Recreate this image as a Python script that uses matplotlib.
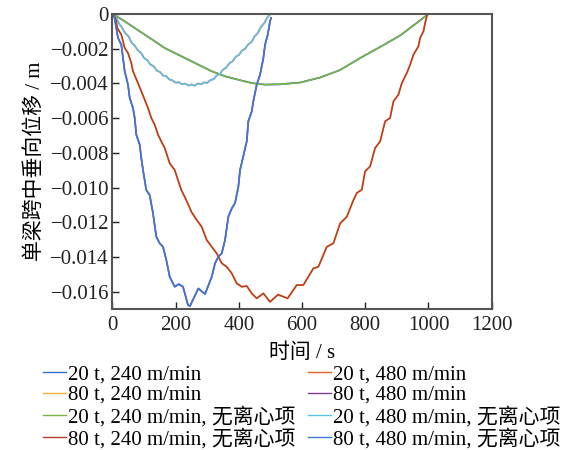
import matplotlib
matplotlib.use("Agg")
import matplotlib.pyplot as plt
from matplotlib.ticker import FuncFormatter

plt.rcParams['font.family'] = ['Liberation Serif', 'Noto Sans CJK SC']
plt.rcParams['axes.unicode_minus'] = True

# ---- data (time in s, mid-span deflection in m) ----
# 80 t, 480 m/min, no centrifugal term (deep curve, ends at 500 s)
t_80_480 = [0, 4.7, 12.0, 17.4, 27.9, 33.2, 38.6, 49.1, 54.5, 64.9, 70.3, 75.4,
            86.1, 91.2, 96.6, 107.0, 117.8, 128.2, 138.7, 149.5, 159.9, 170.4,
            181.1, 197.0, 209.6, 223.2, 239.1, 245.4, 271.7, 292.9, 314.1, 324.6,
            335.0, 345.8, 356.2, 366.7, 377.5, 387.9, 398.4, 403.7, 414.2, 425.0,
            430.0, 440.8, 445.8, 456.6, 467.1, 477.5, 482.9, 491.5, 498.7, 502.0]
v_80_480 = [0, -0.00004, -0.00081, -0.00138, -0.00177, -0.00253, -0.00330, -0.00407,
            -0.00484, -0.00542, -0.00599, -0.00695, -0.00753, -0.00830, -0.00899,
            -0.01014, -0.01043, -0.01148, -0.01283, -0.01321, -0.01341, -0.01417,
            -0.01514, -0.01571, -0.01556, -0.01571, -0.01677, -0.01682, -0.01581,
            -0.01613, -0.01514, -0.01436, -0.01398, -0.01379, -0.01302, -0.01168,
            -0.01120, -0.01089, -0.00995, -0.00899, -0.00818, -0.00733, -0.00618,
            -0.00561, -0.00503, -0.00407, -0.00350, -0.00254, -0.00177, -0.00119,
            -0.00042, -0.00023]

# 80 t, 240 m/min, no centrifugal term (deep curve, ends at 1000 s)
t_80_240 = [0, 7.0, 12.0, 15.2, 27.9, 38.6, 49.1, 59.5, 64.9, 80.7, 91.2, 102.0,
            112.4, 122.9, 133.6, 144.1, 154.5, 165.3, 175.7, 181.1, 197.0, 207.4,
            217.9, 233.7, 250.2, 266.6, 282.5, 298.3, 314.1, 330.0, 345.8, 361.6,
            377.5, 393.3, 409.1, 425.0, 440.8, 456.6, 477.5, 498.7, 524.1, 554.1,
            583.3, 604.2, 635.8, 651.7, 678.3, 699.2, 720.4, 741.6, 762.5, 773.3,
            789.1, 799.6, 815.4, 831.2, 847.1, 862.9, 878.7, 889.2, 905.0, 915.8,
            931.6, 942.1, 952.5, 968.3, 973.7, 984.2, 989.5, 996.0, 1000.0]
v_80_240 = [0, -0.00013, -0.00042, -0.00081, -0.00119, -0.00196, -0.00225, -0.00282,
            -0.00330, -0.00398, -0.00445, -0.00494, -0.00542, -0.00599, -0.00638,
            -0.00695, -0.00734, -0.00772, -0.00830, -0.00860, -0.00899, -0.00957,
            -0.01014, -0.01072, -0.01141, -0.01187, -0.01226, -0.01302, -0.01341,
            -0.01379, -0.01436, -0.01456, -0.01494, -0.01552, -0.01571, -0.01567,
            -0.01609, -0.01638, -0.01609, -0.01658, -0.01616, -0.01638, -0.01561,
            -0.01561, -0.01465, -0.01456, -0.01341, -0.01321, -0.01206, -0.01168,
            -0.01072, -0.01031, -0.01012, -0.00906, -0.00878, -0.00772, -0.00734,
            -0.00618, -0.00599, -0.00503, -0.00465, -0.00398, -0.00340, -0.00292,
            -0.00235, -0.00186, -0.00138, -0.00100, -0.00052, -0.00004, 0]

# 20 t, 480 m/min, no centrifugal term (shallow curve with a small ripple)
t_20_480 = list(range(0, 501, 10))
v_20_480 = [0, -0.00017, -0.00053, -0.00078, -0.00111, -0.00127, -0.00164, -0.00182,
            -0.00209, -0.00224, -0.00254, -0.00266, -0.00291, -0.00301, -0.00326,
            -0.00334, -0.00354, -0.00359, -0.00377, -0.00383, -0.00396, -0.00393,
            -0.00405, -0.00401, -0.00412, -0.00406, -0.00413, -0.00400, -0.00405,
            -0.00394, -0.00397, -0.00380, -0.00376, -0.00354, -0.00346, -0.00320,
            -0.00309, -0.00284, -0.00273, -0.00247, -0.00236, -0.00211, -0.00200,
            -0.00174, -0.00162, -0.00129, -0.00109, -0.00074, -0.00054, -0.00020, 0]

# 20 t, 240 m/min, no centrifugal term (shallow curve, ends at 1000 s)
t_20_240 = [0, 38.6, 70.3, 102.0, 133.6, 165.3, 197.0, 229.6, 271.7, 314.1, 356.2,
            398.4, 440.8, 482.9, 530.4, 593.7, 657.1, 720.4, 783.7, 847.1, 910.4,
            973.7, 1000.0]
v_20_240 = [0, -0.00042, -0.00081, -0.00119, -0.00157, -0.00196, -0.00225, -0.00254,
            -0.00292, -0.00330, -0.00359, -0.00379, -0.00398, -0.00407, -0.00405,
            -0.00395, -0.00366, -0.00323, -0.00254, -0.00190, -0.00124, -0.00037, 0]

# with the centrifugal term the curves are indistinguishable at this resolution
labels = ["20 t, 240 m/min", "20 t, 480 m/min", "80 t, 240 m/min", "80 t, 480 m/min",
          "20 t, 240 m/min, 无离心项", "20 t, 480 m/min, 无离心项",
          "80 t, 240 m/min, 无离心项", "80 t, 480 m/min, 无离心项"]
series = [(t_20_240, v_20_240), (t_20_480, v_20_480), (t_80_240, v_80_240),
          (t_80_480, v_80_480), (t_20_240, v_20_240), (t_20_480, v_20_480),
          (t_80_240, v_80_240), (t_80_480, v_80_480)]
colors = ["#2a72c8", "#e0622a", "#efb134", "#7e3f9a",
          "#7cb342", "#5cc4ee", "#bb3a28", "#3a7ad6"]
widths = [1.25, 1.25, 1.25, 1.25, 1.15, 1.15, 1.15, 1.15]

fig = plt.figure(figsize=(5.71, 4.5), dpi=100)
ax = fig.add_axes([0.197, 0.313, 0.664, 0.656])

lines = []
for (t, v), c, lw, lab in zip(series, colors, widths, labels):
    ln, = ax.plot(t, v, color=c, lw=lw, label=lab, solid_joinstyle="round")
    lines.append(ln)

ax.set_xlim(0, 1200)
ax.set_ylim(-0.017, 0)
ax.set_xticks(range(0, 1201, 200))
ax.set_yticks([-0.016, -0.014, -0.012, -0.010, -0.008, -0.006, -0.004, -0.002, 0])
ax.yaxis.set_major_formatter(FuncFormatter(lambda y, _: "0" if abs(y) < 1e-9 else f"{y:.3f}".replace("-", "\u2212")))
ax.tick_params(direction="in", length=5, width=1, labelsize=15, colors="#222222")
ax.tick_params(axis="x", pad=5)
ax.tick_params(axis="y", pad=2.5)
for s in ax.spines.values():
    s.set_color("#555555")
    s.set_linewidth(1.5)

ax.set_xlabel("时间 / s", fontsize=15, labelpad=6)
ax.set_ylabel("单梁跨中垂向位移 / m", fontsize=15, labelpad=4)

# legend row-wise like the reference: reorder for column-major filling
order = [0, 2, 4, 6, 1, 3, 5, 7]
leg = fig.legend([lines[i] for i in order], [labels[i] for i in order],
                 ncol=2, loc="upper left", bbox_to_anchor=(0.076, 0.19),
                 frameon=False, fontsize=15, handlelength=1.1, handletextpad=0.1,
                 columnspacing=0.6, labelspacing=0.06, borderpad=0, borderaxespad=0)
for h in leg.legend_handles:
    h.set_linewidth(1.0)

fig.savefig("out.png", dpi=100)
